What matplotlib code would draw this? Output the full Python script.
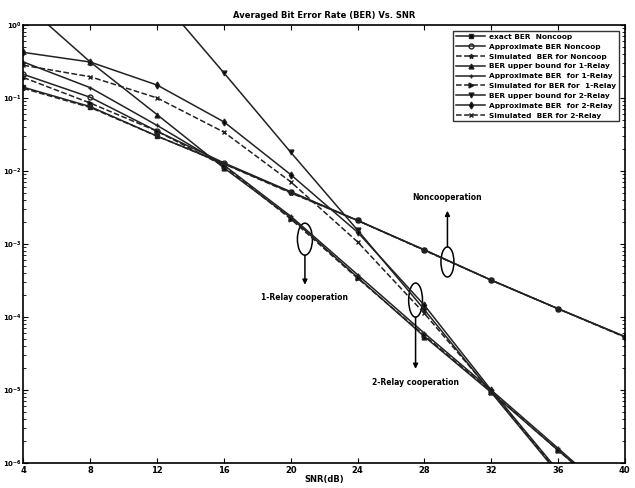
import numpy as np
import matplotlib
matplotlib.use("Agg")
import matplotlib.pyplot as plt
from matplotlib.patches import Ellipse
from matplotlib.ticker import LogLocator, NullFormatter

snr = [4, 8, 12, 16, 20, 24, 28, 32, 36, 40]

# noncooperative
exact_noncoop = [1.4e-1, 7.6e-2, 3.0e-2, 1.26e-2, 5.1e-3, 2.1e-3, 8.3e-4, 3.2e-4, 1.3e-4, 5.4e-5]
approx_noncoop = [2.1e-1, 1.02e-1, 3.5e-2, 1.29e-2, 5.2e-3, 2.1e-3, 8.3e-4, 3.2e-4, 1.3e-4, 5.4e-5]
sim_noncoop = [1.35e-1, 7.4e-2, 3.0e-2, 1.25e-2, 5.0e-3, 2.1e-3, 8.2e-4, 3.2e-4, 1.3e-4, 5.3e-5]

# one relay
ub_1relay = [2.0, 3.1e-1, 5.9e-2, 1.1e-2, 2.3e-3, 3.5e-4, 5.4e-5, 9.3e-6, 1.5e-6, 2.5e-7]
approx_1relay = [3.1e-1, 1.38e-1, 4.2e-2, 1.2e-2, 2.4e-3, 3.8e-4, 6.0e-5, 1.0e-5, 1.6e-6, 2.5e-7]
sim_1relay = [1.9e-1, 8.5e-2, 3.5e-2, 1.17e-2, 2.2e-3, 3.4e-4, 5.6e-5, 9.5e-6, 1.5e-6, 2.5e-7]

# two relays
ub_2relay = [400.0, 32.0, 2.6, 2.2e-1, 1.8e-2, 1.55e-3, 1.26e-4, 9.3e-6, 7.2e-7, 6.3e-8]
approx_2relay = [4.2e-1, 3.1e-1, 1.5e-1, 4.7e-2, 8.9e-3, 1.45e-3, 1.45e-4, 1.0e-5, 7.9e-7, 6.3e-8]
sim_2relay = [2.8e-1, 1.95e-1, 1.0e-1, 3.4e-2, 7.1e-3, 1.07e-3, 1.12e-4, 9.5e-6, 7.6e-7, 6.3e-8]

labels = [
    "exact BER  Noncoop",
    "Approximate BER Noncoop",
    "Simulated  BER for Noncoop",
    "BER upper bound for 1-Relay",
    "Approximate BER  for 1-Relay",
    "Simulated for BER for  1-Relay",
    "BER upper bound for 2-Relay",
    "Approximate BER  for 2-Relay",
    "Simulated  BER for 2-Relay",
]

plt.rcParams["font.family"] = "DejaVu Sans"
plt.rcParams["font.weight"] = "bold"

fig = plt.figure(figsize=(6.35, 4.88), dpi=100)
ax = fig.add_axes([0.037, 0.051, 0.947, 0.898])

series = [
    (exact_noncoop, "-", "s", "k"),
    (approx_noncoop, "-", "o", "none"),
    (sim_noncoop, "--", "*", "k"),
    (ub_1relay, "-", "^", "k"),
    (approx_1relay, "-", "+", "k"),
    (sim_1relay, "--", ">", "k"),
    (ub_2relay, "-", "v", "k"),
    (approx_2relay, "-", "d", "k"),
    (sim_2relay, "--", "x", "k"),
]
for (vals, ls, mk, mfc), lab in zip(series, labels):
    ax.semilogy(snr, vals, linestyle=ls, marker=mk, color="#222222",
                markerfacecolor=mfc, markersize=3.5, linewidth=1.1, label=lab)

ax.set_xlim(4, 40)
ax.set_ylim(1e-6, 1)
ax.set_xticks(snr)
ax.yaxis.set_major_locator(LogLocator(base=10, numticks=10))
ax.yaxis.set_minor_locator(LogLocator(base=10, subs=np.arange(2, 10), numticks=10))
ax.yaxis.set_minor_formatter(NullFormatter())
ax.tick_params(which="both", direction="in", top=True, right=True)
ax.tick_params(axis="y", pad=1, labelsize=5)
ax.tick_params(axis="x", pad=2, labelsize=6)
for s in ax.spines.values():
    s.set_linewidth(1.2)

ax.set_title("Averaged Bit Error Rate (BER) Vs. SNR", fontsize=6, fontweight="bold", pad=5)
ax.set_xlabel("SNR(dB)", fontsize=6, fontweight="bold", labelpad=0)

leg = ax.legend(loc="upper right", fontsize=5.3, frameon=True, fancybox=False,
                edgecolor="black", handlelength=4, labelspacing=0.5,
                borderaxespad=0.8, borderpad=0.4, handletextpad=0.5)
leg.get_frame().set_linewidth(1.0)

# annotations (ellipse + arrow + text)
notes = [
    ("Noncooperation", (0.705, 0.459), (0.0216, 0.0685), 1, 0.596),
    ("1-Relay cooperation", (0.468, 0.511), (0.025, 0.073), -1, 0.377),
    ("2-Relay cooperation", (0.652, 0.372), (0.023, 0.078), -1, 0.185),
]
for txt, c, wh, d, ty in notes:
    ax.add_patch(Ellipse(c, wh[0], wh[1], transform=ax.transAxes,
                         fill=False, edgecolor="k", linewidth=1.1))
    y0 = c[1] + d * wh[1] / 2
    ytip = ty - d * 0.02 if d > 0 else ty + 0.03
    ax.annotate("", xy=(c[0], ytip), xytext=(c[0], y0), xycoords="axes fraction",
                arrowprops=dict(arrowstyle="-|>", color="k", lw=1.1,
                                mutation_scale=7, shrinkA=0, shrinkB=0))
    ax.text(c[0], ty, txt, transform=ax.transAxes, ha="center",
            va="bottom" if d > 0 else "center", fontsize=5.5, fontweight="bold")

fig.savefig("out.png", dpi=100)
